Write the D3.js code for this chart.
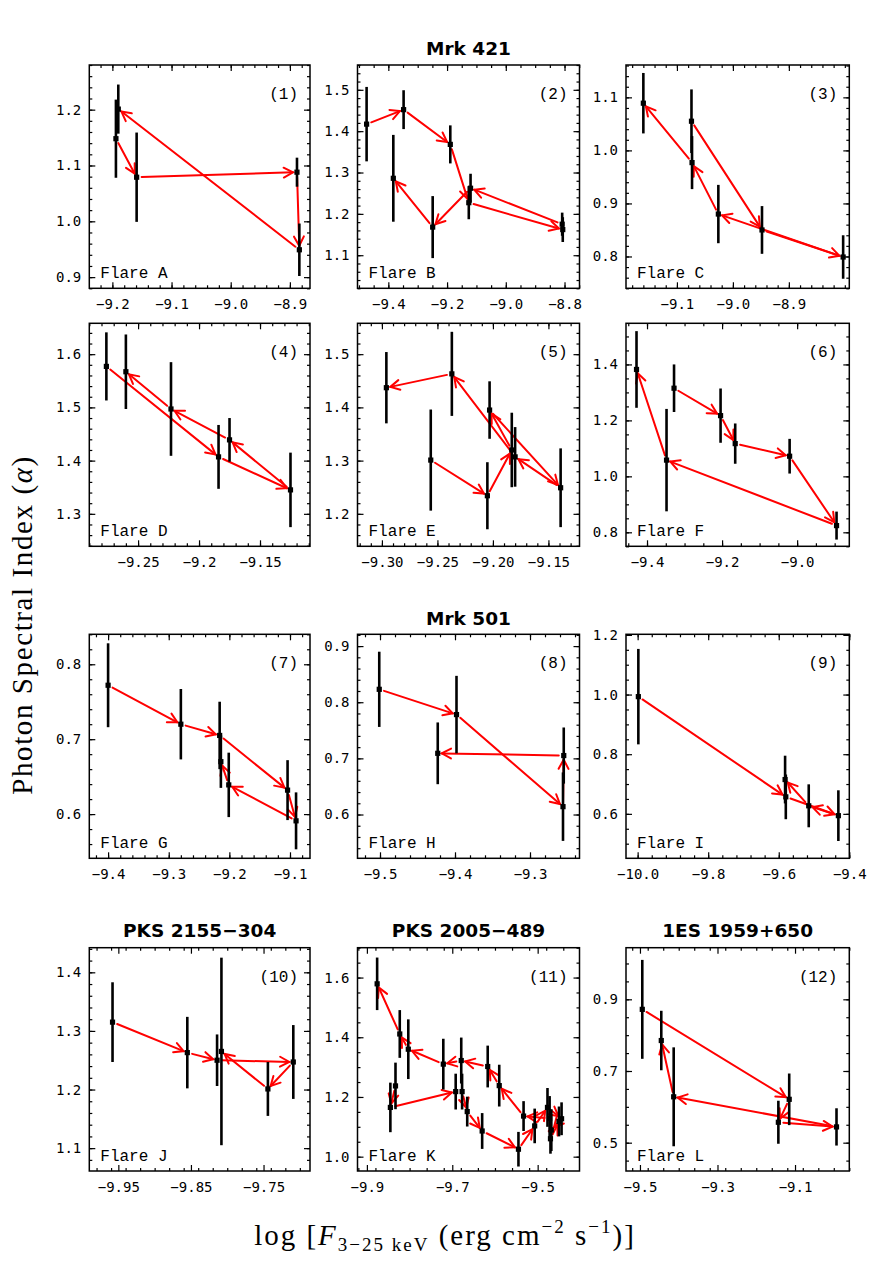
<!DOCTYPE html>
<html><head><meta charset="utf-8">
<script src="https://cdn.jsdelivr.net/npm/d3@7"></script>
<style>body{margin:0;background:#fff}</style>
</head><body><svg id="c" width="894" height="1267" xmlns="http://www.w3.org/2000/svg"></svg>
<script>
// ---------------- DATA (time-ordered points of each flare) ----------------
const flareA_logF  = [-9.194, -9.159, -8.888, -8.884, -9.190];
const flareA_alpha = [1.148, 1.079, 1.088, 0.949, 1.201];
const flareA_err   = [0.070, 0.080, 0.026, 0.047, 0.044];

const flareB_logF  = [-9.474, -9.348, -9.189, -9.126, -8.806, -8.808, -9.120, -9.249, -9.383];
const flareB_alpha = [1.417, 1.452, 1.368, 1.227, 1.162, 1.175, 1.262, 1.168, 1.286];
const flareB_err   = [0.090, 0.047, 0.046, 0.040, 0.030, 0.028, 0.035, 0.075, 0.105];

const flareC_logF  = [-9.074, -8.948, -8.803, -9.026, -9.073, -9.160];
const flareC_alpha = [1.055, 0.850, 0.799, 0.880, 0.977, 1.089];
const flareC_err   = [0.060, 0.045, 0.041, 0.055, 0.050, 0.057];

const flareD_logF  = [-9.276, -9.184, -9.125, -9.175, -9.223, -9.260];
const flareD_alpha = [1.577, 1.407, 1.345, 1.439, 1.497, 1.567];
const flareD_err   = [0.064, 0.060, 0.070, 0.041, 0.088, 0.070];

const flareE_logF  = [-9.256, -9.205, -9.183, -9.203, -9.139, -9.180, -9.237, -9.296];
const flareE_alpha = [1.301, 1.234, 1.320, 1.395, 1.249, 1.307, 1.463, 1.437];
const flareE_err   = [0.095, 0.063, 0.070, 0.054, 0.074, 0.056, 0.079, 0.067];

const flareF_logF  = [-9.328, -9.204, -9.165, -9.020, -8.895, -9.348, -9.428];
const flareF_alpha = [1.315, 1.217, 1.117, 1.072, 0.824, 1.058, 1.382];
const flareF_err   = [0.085, 0.097, 0.072, 0.062, 0.050, 0.183, 0.137];

const flareG_logF  = [-9.400, -9.280, -9.216, -9.104, -9.090, -9.201, -9.214];
const flareG_alpha = [0.772, 0.720, 0.705, 0.632, 0.591, 0.639, 0.670];
const flareG_err   = [0.056, 0.047, 0.045, 0.040, 0.038, 0.043, 0.035];

const flareH_logF  = [-9.501, -9.398, -9.256, -9.255, -9.423];
const flareH_alpha = [0.823, 0.778, 0.614, 0.705, 0.709];
const flareH_err   = [0.067, 0.069, 0.061, 0.050, 0.055];

const flareI_logF  = [-9.998, -9.580, -9.431, -9.515, -9.582];
const flareI_alpha = [0.993, 0.657, 0.594, 0.627, 0.715];
const flareI_err   = [0.160, 0.075, 0.085, 0.072, 0.080];

const flareJ_logF  = [-9.958, -9.855, -9.814, -9.709, -9.744, -9.808];
const flareJ_alpha = [1.315, 1.263, 1.250, 1.247, 1.201, 1.265];
const flareJ_err   = [0.068, 0.061, 0.044, 0.063, 0.046, 0.160];

const flareK_logF  = [-9.833, -9.845, -9.692, -9.677, -9.665, -9.630, -9.545, -9.507, -9.477, -9.444,
                      -9.468, -9.470, -9.450, -9.472, -9.533, -9.590, -9.617, -9.679, -9.721, -9.803, -9.823, -9.876];
const flareK_alpha = [1.237, 1.165, 1.218, 1.218, 1.151, 1.086, 1.025, 1.103, 1.165, 1.127,
                      1.089, 1.060, 1.118, 1.128, 1.136, 1.238, 1.302, 1.322, 1.310, 1.360, 1.411, 1.579];
const flareK_err   = [0.078, 0.083, 0.060, 0.060, 0.050, 0.060, 0.058, 0.058, 0.065, 0.055,
                      0.070, 0.050, 0.050, 0.075, 0.050, 0.070, 0.070, 0.077, 0.085, 0.100, 0.080, 0.088];

const flareL_logF  = [-9.494, -9.115, -9.143, -8.993, -9.413, -9.445];
const flareL_alpha = [0.872, 0.621, 0.557, 0.544, 0.628, 0.785];
const flareL_err   = [0.138, 0.072, 0.060, 0.052, 0.138, 0.083];

// ---------------- TICK LABELS ----------------
const p1_xTicks = ["−9.2","−9.1","−9.0","−8.9"],  p1_yTicks = ["0.9","1.0","1.1","1.2"];
const p2_xTicks = ["−9.4","−9.2","−9.0","−8.8"],  p2_yTicks = ["1.1","1.2","1.3","1.4","1.5"];
const p3_xTicks = ["−9.1","−9.0","−8.9"],         p3_yTicks = ["0.8","0.9","1.0","1.1"];
const p4_xTicks = ["−9.25","−9.2","−9.15"],       p4_yTicks = ["1.3","1.4","1.5","1.6"];
const p5_xTicks = ["−9.30","−9.25","−9.20","−9.15"], p5_yTicks = ["1.2","1.3","1.4","1.5"];
const p6_xTicks = ["−9.4","−9.2","−9.0"],         p6_yTicks = ["0.8","1.0","1.2","1.4"];
const p7_xTicks = ["−9.4","−9.3","−9.2","−9.1"],  p7_yTicks = ["0.6","0.7","0.8"];
const p8_xTicks = ["−9.5","−9.4","−9.3"],         p8_yTicks = ["0.6","0.7","0.8","0.9"];
const p9_xTicks = ["−10.0","−9.8","−9.6","−9.4"], p9_yTicks = ["0.6","0.8","1.0","1.2"];
const p10_xTicks = ["−9.95","−9.85","−9.75"],     p10_yTicks = ["1.1","1.2","1.3","1.4"];
const p11_xTicks = ["−9.9","−9.7","−9.5"],        p11_yTicks = ["1.0","1.2","1.4","1.6"];
const p12_xTicks = ["−9.5","−9.3","−9.1"],        p12_yTicks = ["0.5","0.7","0.9"];

const flareNames = ["Flare A","Flare B","Flare C","Flare D","Flare E","Flare F",
                    "Flare G","Flare H","Flare I","Flare J","Flare K","Flare L"];
const panelNums = ["(1)","(2)","(3)","(4)","(5)","(6)","(7)","(8)","(9)","(10)","(11)","(12)"];
const sourceNames = ["Mrk 421","Mrk 501","PKS 2155−304","PKS 2005−489","1ES 1959+650"];
const sourcePanels = [1, 7, 9, 10, 11];

// ---------------- PANEL OPTIONS ----------------
const panels = [
 {x:flareA_logF,y:flareA_alpha,e:flareA_err,xd:[-9.239,-8.866],yd:[0.88,1.28],xt:p1_xTicks,yt:p1_yTicks,xm:0.02,ym:0.02},
 {x:flareB_logF,y:flareB_alpha,e:flareB_err,xd:[-9.505,-8.749],yd:[1.02,1.56],xt:p2_xTicks,yt:p2_yTicks,xm:0.05,ym:0.02},
 {x:flareC_logF,y:flareC_alpha,e:flareC_err,xd:[-9.191,-8.792],yd:[0.74,1.161],xt:p3_xTicks,yt:p3_yTicks,xm:0.02,ym:0.02},
 {x:flareD_logF,y:flareD_alpha,e:flareD_err,xd:[-9.29,-9.109],yd:[1.239,1.658],xt:p4_xTicks,yt:p4_yTicks,xm:0.01,ym:0.02},
 {x:flareE_logF,y:flareE_alpha,e:flareE_err,xd:[-9.322,-9.122],yd:[1.139,1.558],xt:p5_xTicks,yt:p5_yTicks,xm:0.01,ym:0.02},
 {x:flareF_logF,y:flareF_alpha,e:flareF_err,xd:[-9.456,-8.861],yd:[0.75,1.547],xt:p6_xTicks,yt:p6_yTicks,xm:0.05,ym:0.05},
 {x:flareG_logF,y:flareG_alpha,e:flareG_err,xd:[-9.431,-9.067],yd:[0.541,0.84],xt:p7_xTicks,yt:p7_yTicks,xm:0.02,ym:0.02},
 {x:flareH_logF,y:flareH_alpha,e:flareH_err,xd:[-9.530,-9.234],yd:[0.522,0.921],xt:p8_xTicks,yt:p8_yTicks,xm:0.02,ym:0.02},
 {x:flareI_logF,y:flareI_alpha,e:flareI_err,xd:[-10.033,-9.4],yd:[0.451,1.202],xt:p9_xTicks,yt:p9_yTicks,xm:0.04,ym:0.05},
 {x:flareJ_logF,y:flareJ_alpha,e:flareJ_err,xd:[-9.99,-9.686],yd:[1.061,1.442],xt:p10_xTicks,yt:p10_yTicks,xm:0.02,ym:0.02},
 {x:flareK_logF,y:flareK_alpha,e:flareK_err,xd:[-9.922,-9.402],yd:[0.952,1.70],xt:p11_xTicks,yt:p11_yTicks,xm:0.04,ym:0.05},
 {x:flareL_logF,y:flareL_alpha,e:flareL_err,xd:[-9.536,-8.96],yd:[0.421,1.044],xt:p12_xTicks,yt:p12_yTicks,xm:0.04,ym:0.05}
];

// ---------------- LAYOUT ----------------
const cols = [[89.3,310],[357.5,579.5],[626,849.3]];
const rows = [[65,288.3],[323.3,546.3],[634.3,858.3],[947.7,1171]];
const titleOffset = [10, 10, 9, 11, 11, 11];
const RED = "#ff0000";
const svg = d3.select("#c");
const num = s => +s.replace("−","-");

function minorTicks(dom, step){
  const out=[]; const a=Math.ceil(dom[0]/step-1e-6), b=Math.floor(dom[1]/step+1e-6);
  for(let k=a;k<=b;k++) out.push(+(k*step).toFixed(6));
  return out;
}

function styleAxis(g, font, size){
  g.select(".domain").remove();
  g.selectAll("line").attr("stroke","#000").attr("stroke-width",1.2);
  g.attr("font-family",font).attr("font-size",size);
  g.selectAll("text").attr("fill","#000");
}

panels.forEach((p,i)=>{
  const c = cols[i%3], r = rows[Math.floor(i/3)];
  const x = d3.scaleLinear().domain(p.xd).range(c);
  const y = d3.scaleLinear().domain(p.yd).range([r[1], r[0]]);
  const g = svg.append("g");
  const xv = p.xt.map(num), yv = p.yt.map(num);
  const mx = minorTicks(p.xd, p.xm), my = minorTicks(p.yd, p.ym);
  const fnt = "DejaVu Sans Mono", fs = 14;

  // minor ticks
  styleAxis(g.append("g").attr("transform",`translate(0,${r[1]})`).call(d3.axisBottom(x).tickValues(mx).tickSize(-3).tickFormat("")),fnt,fs);
  styleAxis(g.append("g").attr("transform",`translate(0,${r[0]})`).call(d3.axisTop(x).tickValues(mx).tickSize(-3).tickFormat("")),fnt,fs);
  styleAxis(g.append("g").attr("transform",`translate(${c[0]},0)`).call(d3.axisLeft(y).tickValues(my).tickSize(-3).tickFormat("")),fnt,fs);
  styleAxis(g.append("g").attr("transform",`translate(${c[1]},0)`).call(d3.axisRight(y).tickValues(my).tickSize(-3).tickFormat("")),fnt,fs);
  // major ticks
  styleAxis(g.append("g").attr("transform",`translate(0,${r[1]})`).call(d3.axisBottom(x).tickValues(xv).tickSize(-6).tickPadding(11).tickFormat((d,k)=>p.xt[k])),fnt,fs);
  styleAxis(g.append("g").attr("transform",`translate(0,${r[0]})`).call(d3.axisTop(x).tickValues(xv).tickSize(-6).tickFormat("")),fnt,fs);
  styleAxis(g.append("g").attr("transform",`translate(${c[0]},0)`).call(d3.axisLeft(y).tickValues(yv).tickSize(-6).tickPadding(8).tickFormat((d,k)=>p.yt[k])),fnt,fs);
  styleAxis(g.append("g").attr("transform",`translate(${c[1]},0)`).call(d3.axisRight(y).tickValues(yv).tickSize(-6).tickFormat("")),fnt,fs);

  // frame
  g.append("rect").attr("x",c[0]).attr("y",r[0]).attr("width",c[1]-c[0]).attr("height",r[1]-r[0])
    .attr("fill","none").attr("stroke","#000").attr("stroke-width",1.5);

  const pts = p.x.map((v,k)=>({px:x(v), py:y(p.y[k]), lo:y(p.y[k]-p.e[k]), hi:y(p.y[k]+p.e[k])}));

  // arrows between consecutive observations
  const ag = g.append("g").attr("stroke",RED).attr("stroke-width",2).attr("fill","none").attr("stroke-linecap","round");
  for(let k=0;k<pts.length-1;k++){
    const a=pts[k], b=pts[k+1];
    const dx=b.px-a.px, dy=b.py-a.py, L=Math.hypot(dx,dy);
    if(L<12) continue;
    const ux=dx/L, uy=dy/L, s0=5, s1=4;
    const x0=a.px+ux*s0, y0=a.py+uy*s0, x1=b.px-ux*s1, y1=b.py-uy*s1;
    ag.append("line").attr("x1",x0).attr("y1",y0).attr("x2",x1).attr("y2",y1);
    const hl=10.5, ang=28*Math.PI/180;
    const head=[[x1-hl*(ux*Math.cos(ang)-uy*Math.sin(ang)), y1-hl*(uy*Math.cos(ang)+ux*Math.sin(ang))],
                [x1,y1],
                [x1-hl*(ux*Math.cos(ang)+uy*Math.sin(ang)), y1-hl*(uy*Math.cos(ang)-ux*Math.sin(ang))]];
    ag.append("path").attr("d",d3.line()(head));
  }

  // error bars
  g.append("g").selectAll("line").data(pts).join("line")
    .attr("x1",d=>d.px).attr("x2",d=>d.px).attr("y1",d=>d.lo).attr("y2",d=>d.hi)
    .attr("stroke","#000").attr("stroke-width",2.6);
  // points
  g.append("g").selectAll("rect").data(pts).join("rect")
    .attr("x",d=>d.px-2.6).attr("y",d=>d.py-2.6).attr("width",5.2).attr("height",5.2).attr("fill","#000");

  // labels
  g.append("text").attr("x",c[1]-12).attr("y",r[0]+34).attr("text-anchor","end")
    .attr("font-family","Liberation Mono").attr("font-size",16).text(panelNums[i]);
  g.append("text").attr("x",c[0]+11).attr("y",r[1]-10)
    .attr("font-family","Liberation Mono").attr("font-size",16).text(flareNames[i]);
});

// source titles
sourceNames.forEach((s,k)=>{
  const i = sourcePanels[k], c = cols[i%3], r = rows[Math.floor(i/3)];
  svg.append("text").attr("x",(c[0]+c[1])/2).attr("y",r[0]-titleOffset[Math.floor(i/3)])
    .attr("text-anchor","middle").attr("font-family","DejaVu Sans").attr("font-weight","bold")
    .attr("font-size",18.5).text(s);
});

// axis titles
const yl = svg.append("text").attr("transform","translate(32,625) rotate(-90)").attr("text-anchor","middle")
  .attr("font-family","Liberation Serif").attr("font-size",29).attr("letter-spacing",1.6);
yl.append("tspan").text("Photon Spectral Index (");
yl.append("tspan").attr("font-style","italic").text("α");
yl.append("tspan").text(")");

const xl = svg.append("text").attr("x",445).attr("y",1245).attr("text-anchor","middle")
  .attr("font-family","Liberation Serif").attr("font-size",29).attr("letter-spacing",2);
xl.append("tspan").text("log [");
xl.append("tspan").attr("font-style","italic").text("F");
xl.append("tspan").attr("font-size",19).attr("dy",6).text("3−25 keV");
xl.append("tspan").attr("dy",-6).text(" (erg cm");
xl.append("tspan").attr("font-size",19).attr("dy",-12).text("−2");
xl.append("tspan").attr("dy",12).text(" s");
xl.append("tspan").attr("font-size",19).attr("dy",-12).text("−1");
xl.append("tspan").attr("dy",12).text(")]");
</script>
</body></html>
